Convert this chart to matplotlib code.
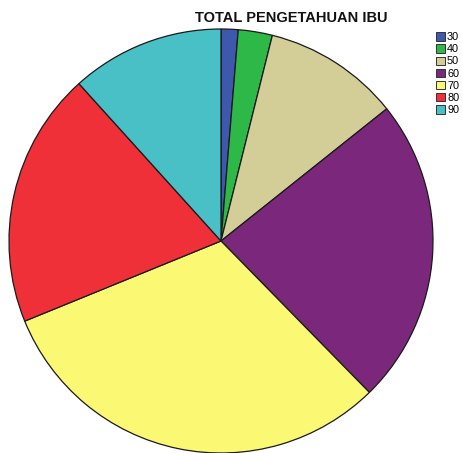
import numpy as np
import matplotlib
matplotlib.use("Agg")
import matplotlib.pyplot as plt

plt.rcParams['font.family'] = ['Liberation Sans', 'DejaVu Sans']

# nilai pengetahuan ibu dan jumlah responden
labels = ['30', '40', '50', '60', '70', '80', '90']
counts = [1, 2, 8, 18, 24, 15, 9]
colors = ['#3e58ac', '#2eb848', '#d3ce97', '#7b287c', '#fbf873', '#ef3038', '#48c0c5']

W, H = 462, 453
fig = plt.figure(figsize=(W / 100, H / 100), dpi=100)
ax = fig.add_axes([0, 0, 1, 1])

wedges, _ = ax.pie(counts, colors=colors, startangle=90, counterclock=False,
                   center=(221, H - 241), radius=212,
                   wedgeprops=dict(edgecolor='#1a1a1a', linewidth=0.9))
ax.set_xlim(0, W)
ax.set_ylim(0, H)
ax.set_aspect('equal')
ax.axis('off')

fig.text(291 / W, 1 - 18 / H, 'TOTAL PENGETAHUAN IBU', ha='center', va='center',
         fontsize=10.5, fontweight='bold', color='#111111')

leg = fig.legend(wedges, labels, loc='upper left',
                 bbox_to_anchor=(434 / W, 1 - 30 / H), frameon=False,
                 fontsize=7.8, handlelength=0.8, handleheight=0.8,
                 handletextpad=0.2, labelspacing=0.2, borderpad=0.2,
                 borderaxespad=0)
for h in leg.legend_handles:
    h.set_edgecolor('#333333')
    h.set_linewidth(0.7)

fig.savefig('out.png', dpi=100)
